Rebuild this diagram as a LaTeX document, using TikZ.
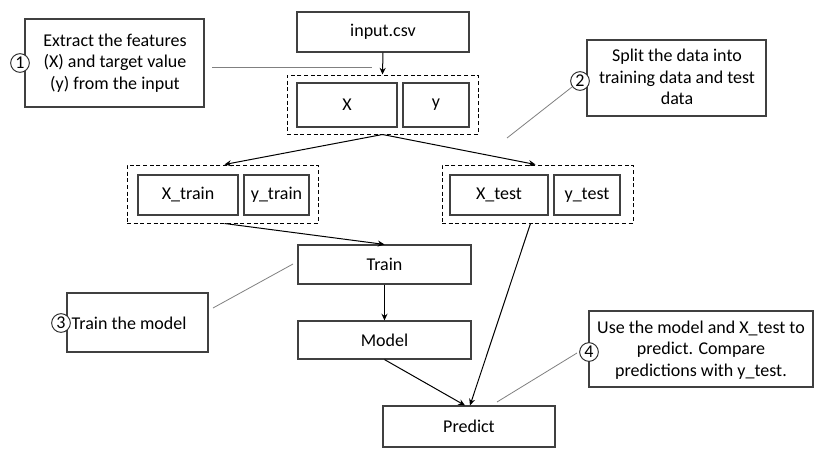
\documentclass[tikz,border=0pt]{standalone}
\usepackage{fontspec}
\setmainfont{Carlito}
\usetikzlibrary{arrows.meta,calc}
\definecolor{boxgray}{HTML}{404040}
\definecolor{callgray}{HTML}{808080}
\begin{document}
\begin{tikzpicture}[x=0.75pt,y=-0.75pt,
  font=\fontsize{13.5}{16.2}\selectfont,
  sz/.style 2 args={minimum width=#1*0.75pt, minimum height=#2*0.75pt},
  box/.style={draw=boxgray, line width=0.85pt, inner sep=0pt},
  grp/.style={draw=black, line width=0.75pt, dash pattern=on 3pt off 2pt, inner sep=0pt},
  note/.style={draw=boxgray, line width=0.85pt, inner sep=0pt},
  num/.style={circle, draw=black!85, fill=white, line width=0.7pt, inner sep=0pt, minimum size=14pt},
  arr/.style={-{Stealth[length=5pt,width=4.5pt]}, line width=0.75pt},
  call/.style={draw=callgray, line width=0.6pt}]
\useasboundingbox[fill=white] (0,0) rectangle (822,457);

% dashed groups
\node[grp, sz={191}{59}] (xyg) at (382.5,104.5) {};
\node[grp, sz={191}{58}] (traing) at (222.5,194) {};
\node[grp, sz={191}{58}] (testg) at (537.5,194) {};

% main boxes
\node[box, sz={172}{40}] (inp) at (383,32) {input.csv};
\node[box, sz={100}{44}] (X) at (347,105) {X};
\node[box, sz={66}{44}] (y) at (436,105) {y};
\node[box, sz={100}{40}] (xtrain) at (188,195) {X\_train};
\node[box, sz={65}{40}] (ytrain) at (276.5,195) {y\_train};
\node[box, sz={98}{40}] (xtest) at (499,195) {X\_test};
\node[box, sz={66}{40}] (ytest) at (587,195) {y\_test};
\node[box, sz={173}{39}] (train) at (384.5,264.5) {Train};
\node[box, sz={173}{38}] (model) at (384.5,340) {Model};
\node[box, sz={172}{41}] (pred) at (469,426.5) {Predict};

% note boxes
\node[note, sz={179}{88}] (n1) at (114.5,63) {};
\node[align=center] (t1) at (115,63) {Extract the features\\(X) and target value\\(y) from the input};
\node[note, sz={179}{76}] (n2) at (676.5,78) {};
\node[align=center] (t2) at (677,77) {Split the data into\\training data and test\\data};
\node[note, sz={141}{59}] (n3) at (137.5,322.5) {};
\node[anchor=west] (t3) at (67,323) {Train the model};
\node[note, sz={224}{76}] (n4) at (701,349) {};
\node[align=center] (t4) at (701,350) {Use the model and X\_test to\\predict. Compare\\predictions with y\_test.};

% number circles
\node[num] (c1) at (20,63) {1};
\node[num] (c2) at (580,81) {2};
\node[num] (c3) at (61,323) {3};
\node[num] (c4) at (589,352) {4};

% arrows
\draw[arr] (inp.south) -- (xyg.north);
\draw[arr] (xyg.south) -- ($(traing.north)+(2,0)$);
\draw[arr] (xyg.south) -- ($(testg.north)+(-2,0)$);
\draw[arr] ($(traing.south)+(2,0)$) -- (train.north);
\draw[arr] (train.south) -- (model.north);
\draw[arr] (model.south) -- ($(pred.north)+(-4,0)$);
\draw[arr] ($(testg.south)+(-7,0)$) -- ($(pred.north)+(1,0)$);

% callout lines
\coordinate (l1a) at (212,67);
\coordinate (l1b) at (372,67);
\coordinate (l2a) at (507,138);
\coordinate (l2b) at (572,87);
\coordinate (l3a) at (213,308);
\coordinate (l3b) at (293,264);
\coordinate (l4a) at (497,402);
\coordinate (l4b) at (577,353);
\draw[call] (l1a) -- (l1b);
\draw[call] (l2a) -- (l2b);
\draw[call] (l3a) -- (l3b);
\draw[call] (l4a) -- (l4b);
\end{tikzpicture}
\end{document}
